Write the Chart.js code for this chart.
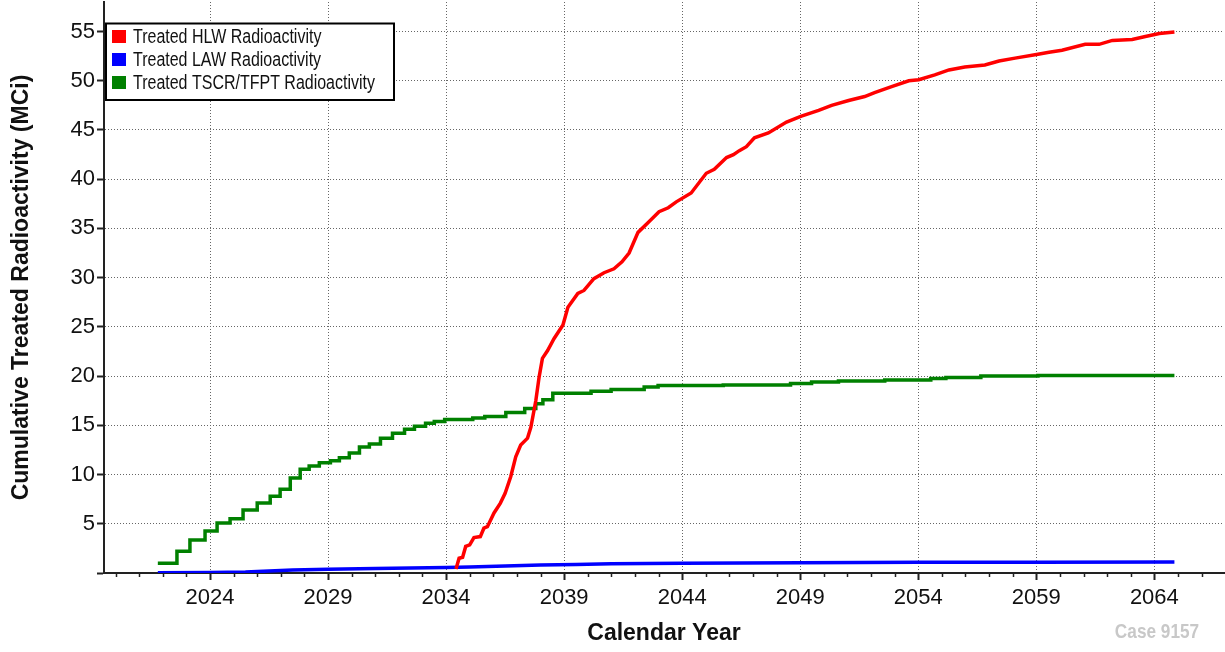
<!DOCTYPE html>
<html>
<head>
<meta charset="utf-8">
<script src="https://cdn.jsdelivr.net/npm/chart.js@4/dist/chart.umd.min.js"></script>
<style>
  body { margin: 0; background: #fff; }
  canvas { display: block; }
</style>
</head>
<body>
<canvas id="radChart" width="1225" height="652"></canvas>
<script>
// Treated HLW (red)
const hlwYears = [2034.42, 2034.55, 2034.7, 2034.83, 2035.0, 2035.18, 2035.45, 2035.6, 2035.75, 2036.03,
  2036.3, 2036.5, 2036.74, 2036.95, 2037.16, 2037.45, 2037.59, 2037.8, 2037.94, 2038.08,
  2038.3, 2038.57, 2038.95, 2039.16, 2039.58, 2039.84, 2040.26, 2040.69, 2041.11, 2041.45,
  2041.75, 2042.13, 2042.56, 2043.02, 2043.41, 2043.75, 2044.38, 2045.02, 2045.36, 2045.88,
  2046.17, 2046.42, 2046.72, 2047.06, 2047.65, 2048.42, 2049.05, 2049.78, 2050.33, 2051.05,
  2051.73, 2052.15, 2052.87, 2053.6, 2054.02, 2054.7, 2055.3, 2055.97, 2056.82, 2057.42,
  2058.1, 2059.07, 2059.54, 2060.09, 2061.07, 2061.66, 2062.22, 2063.06, 2063.62, 2064.21, 2064.85];
const hlwValues = [0.4, 1.5, 1.6, 2.7, 2.85, 3.6, 3.7, 4.55, 4.7, 6.1,
  7.1, 8.1, 9.8, 11.8, 13.0, 13.7, 14.8, 17.5, 19.9, 21.8,
  22.6, 23.8, 25.2, 27.0, 28.4, 28.7, 29.9, 30.5, 30.9, 31.6,
  32.5, 34.6, 35.6, 36.7, 37.1, 37.7, 38.6, 40.6, 41.0, 42.2,
  42.5, 42.9, 43.3, 44.2, 44.7, 45.8, 46.4, 47.0, 47.5, 48.0,
  48.4, 48.8, 49.4, 50.0, 50.1, 50.6, 51.1, 51.4, 51.6, 52.0,
  52.3, 52.7, 52.9, 53.1, 53.7, 53.7, 54.1, 54.2, 54.5, 54.8, 54.95];

// Treated LAW (blue)
const lawYears = [2021.79, 2024, 2025.5, 2026.5, 2027.5, 2029, 2031, 2034, 2035, 2036.5,
  2038, 2039.5, 2041, 2044, 2049, 2054, 2059, 2064.85];
const lawValues = [0.02, 0.05, 0.1, 0.2, 0.3, 0.38, 0.45, 0.55, 0.6, 0.7,
  0.8, 0.87, 0.93, 1.0, 1.05, 1.08, 1.1, 1.12];

// Treated TSCR/TFPT (green), stepwise
const tscrYears = [2021.79, 2022.6, 2023.15, 2023.79, 2024.3, 2024.85, 2025.4, 2026.0, 2026.55, 2026.97,
  2027.4, 2027.82, 2028.2, 2028.63, 2029.1, 2029.48, 2029.9, 2030.33, 2030.75, 2031.22,
  2031.73, 2032.24, 2032.66, 2033.13, 2033.5, 2033.94, 2035.13, 2035.64, 2036.53, 2037.33,
  2037.8, 2038.1, 2038.52, 2040.14, 2040.99, 2042.39, 2042.98, 2045.74, 2048.59, 2049.48,
  2050.62, 2052.58, 2054.53, 2055.17, 2056.65, 2059.07, 2064.85];
const tscrValues = [1.0, 2.2, 3.35, 4.26, 5.08, 5.5, 6.4, 7.1, 7.8, 8.5,
  9.65, 10.55, 10.86, 11.2, 11.4, 11.7, 12.2, 12.8, 13.1, 13.7,
  14.2, 14.6, 14.9, 15.2, 15.4, 15.6, 15.75, 15.9, 16.3, 16.7,
  17.2, 17.6, 18.25, 18.45, 18.65, 18.9, 19.05, 19.1, 19.25, 19.4,
  19.5, 19.6, 19.75, 19.85, 20.0, 20.05, 20.05];

const seriesLabels = ['Treated HLW Radioactivity', 'Treated LAW Radioactivity', 'Treated TSCR/TFPT Radioactivity'];
const seriesColors = ['#ff0000', '#0000ff', '#008000'];

const X_MIN = 2019.51, X_MAX = 2066.95;
const Y_MIN = 0, Y_MAX = 58;
const FONT = "'Liberation Sans', Arial, sans-serif";

function toPoints(xs, ys) {
    return xs.map((x, i) => ({ x: x, y: ys[i] }));
}

function isMajorYear(v) {
    return Math.abs(((v - 2024) % 5 + 5) % 5) < 1e-6;
}

// legend box, minor ticks and case stamp
const extras = {
    id: 'extras',
    afterDraw(chart) {
        const ctx = chart.ctx;
        const xs = chart.scales.x;
        const bottom = chart.chartArea.bottom;

        // minor year ticks
        ctx.save();
        ctx.strokeStyle = '#222';
        ctx.lineWidth = 1.5;
        xs.ticks.forEach(t => {
            if (isMajorYear(t.value)) return;
            const px = Math.round(xs.getPixelForValue(t.value)) + 0.5;
            ctx.beginPath();
            ctx.moveTo(px, bottom);
            ctx.lineTo(px, bottom + 4);
            ctx.stroke();
        });
        ctx.restore();

        // legend
        ctx.save();
        ctx.fillStyle = '#fff';
        ctx.fillRect(106, 23.5, 288, 76.5);
        ctx.strokeStyle = '#000';
        ctx.lineWidth = 2;
        ctx.strokeRect(106, 23.5, 288, 76.5);
        chart.data.datasets.forEach((ds, i) => {
            const cy = 36.5 + i * 23;
            ctx.fillStyle = ds.borderColor;
            ctx.fillRect(112, cy - 6.5, 14, 13);
            ctx.save();
            ctx.translate(133, cy);
            ctx.scale(0.82, 1);
            ctx.fillStyle = '#111';
            ctx.font = '19.5px ' + FONT;
            ctx.textBaseline = 'middle';
            ctx.textAlign = 'left';
            ctx.fillText(ds.label, 0, 1);
            ctx.restore();
        });
        ctx.restore();

        // case stamp
        ctx.save();
        ctx.translate(1157, 632);
        ctx.scale(0.82, 1);
        ctx.fillStyle = '#c8c8c8';
        ctx.font = 'bold 21px ' + FONT;
        ctx.textAlign = 'center';
        ctx.textBaseline = 'middle';
        ctx.fillText('Case 9157', 0, 0);
        ctx.restore();
    }
};

const radCtx = document.getElementById('radChart').getContext('2d');
new Chart(radCtx, {
    type: 'line',
    data: {
        datasets: [{
            label: seriesLabels[0],
            data: toPoints(hlwYears, hlwValues),
            borderColor: seriesColors[0],
            backgroundColor: seriesColors[0],
            borderWidth: 3.5
        }, {
            label: seriesLabels[1],
            data: toPoints(lawYears, lawValues),
            borderColor: seriesColors[1],
            backgroundColor: seriesColors[1],
            borderWidth: 3.5
        }, {
            label: seriesLabels[2],
            data: toPoints(tscrYears, tscrValues),
            borderColor: seriesColors[2],
            backgroundColor: seriesColors[2],
            borderWidth: 3.5,
            stepped: 'before'
        }]
    },
    options: {
        responsive: false,
        animation: false,
        events: [],
        elements: { point: { radius: 0 }, line: { tension: 0 } },
        layout: { padding: { left: 0, top: 2, right: 1, bottom: 0 } },
        plugins: {
            legend: { display: false },
            tooltip: { enabled: false }
        },
        scales: {
            x: {
                type: 'linear',
                min: X_MIN,
                max: X_MAX,
                afterFit: s => {
                    s.height = 79;
                    s.paddingLeft = 0;
                    s.paddingRight = 0;
                },
                ticks: {
                    stepSize: 1,
                    autoSkip: false,
                    includeBounds: false,
                    maxRotation: 0,
                    padding: 5,
                    color: '#111',
                    font: { family: FONT, size: 22 },
                    callback: v => isMajorYear(v) ? String(Math.round(v)) : ''
                },
                grid: {
                    color: c => isMajorYear(c.tick.value) ? '#666' : 'rgba(0,0,0,0)',
                    lineWidth: 1,
                    tickLength: 7,
                    tickWidth: 2,
                    tickColor: c => isMajorYear(c.tick.value) ? '#222' : 'rgba(0,0,0,0)'
                },
                border: { color: '#222', width: 2, dash: [1, 2] },
                title: {
                    display: true,
                    text: 'Calendar Year',
                    color: '#111',
                    font: { family: FONT, size: 23, weight: 'bold' },
                    padding: { top: 0, bottom: 5 }
                }
            },
            y: {
                min: Y_MIN,
                max: Y_MAX,
                afterFit: s => {
                    s.width = 104;
                    s.paddingTop = 0;
                    s.paddingBottom = 0;
                },
                ticks: {
                    stepSize: 5,
                    includeBounds: false,
                    padding: 2,
                    color: '#111',
                    font: { family: FONT, size: 22 },
                    callback: v => v === 0 ? '' : String(v)
                },
                grid: {
                    color: c => c.tick.value === 0 ? 'rgba(0,0,0,0)' : '#666',
                    lineWidth: 1,
                    tickLength: 7,
                    tickWidth: 2,
                    tickColor: '#222'
                },
                border: { color: '#222', width: 2, dash: [1, 2] },
                title: {
                    display: true,
                    text: 'Cumulative Treated Radioactivity (MCi)',
                    color: '#111',
                    font: { family: FONT, size: 23, weight: 'bold' },
                    padding: { top: 8, bottom: 0 }
                }
            }
        }
    },
    plugins: [extras]
});
</script>
</body>
</html>
